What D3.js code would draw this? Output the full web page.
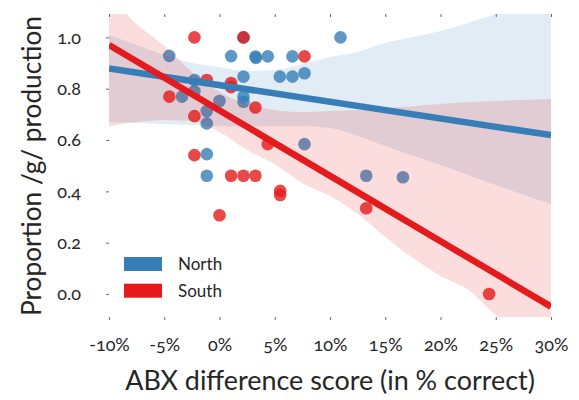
<!DOCTYPE html>
<html>
<head>
<meta charset="utf-8">
<script src="https://cdn.jsdelivr.net/npm/d3@7"></script>
<style>
  html, body { margin: 0; padding: 0; background: #fff; }
  svg { display: block; }
  text { font-family: Lato, "Noto Sans", sans-serif; fill: #262626; font-feature-settings: "onum" 1; font-variant-numeric: oldstyle-nums; }
</style>
</head>
<body>
<svg id="chart" width="579" height="400"></svg>
<script>
// ---------------- data ----------------
const groups = ["North", "South"];
const colors = ["#377eb8", "#e41a1c"];

const northX = [-4.55, 1.05, 3.25, 3.3, 4.37, 6.6, 2.17, 10.95, 5.46, 6.6, 7.69, 2.17, -2.27, -2.27, -3.39, 0, 2.17, 2.17, -1.15, -1.15, 7.69, -1.15, -1.15, 13.28, 16.6];
const northY = [0.928, 0.927, 0.925, 0.92, 0.926, 0.926, 1.0, 1.0, 0.847, 0.847, 0.86, 0.847, 0.834, 0.79, 0.769, 0.752, 0.769, 0.749, 0.713, 0.665, 0.584, 0.545, 0.461, 0.461, 0.455];

const southX = [-2.27, 2.17, 7.69, 1.05, 1.05, -1.15, -4.54, 3.25, -2.27, 4.37, -2.27, 1.05, 2.17, 3.25, 5.49, 5.49, 0, 13.28, 24.4];
const southY = [1.0, 1.0, 0.926, 0.822, 0.806, 0.834, 0.769, 0.727, 0.693, 0.584, 0.541, 0.461, 0.461, 0.461, 0.402, 0.386, 0.307, 0.334, 0.0];

// regression fits (value at x = -10% and x = 30%)
const fitX = [-10, 30];
const northFit = [0.879, 0.619];
const southFit = [0.970, -0.049];

// confidence bands
const bandX = [-10, -7.5, -5, -2.5, 0, 2.5, 5, 7.5, 10, 12.5, 15, 17.5, 20, 22.5, 25, 27.5, 30];
const northUpper = [1.009, 0.970, 0.931, 0.900, 0.884, 0.869, 0.873, 0.896, 0.923, 0.943, 0.978, 1.001, 1.025, 1.056, 1.091, 1.122, 1.153];
const northLower = [0.670, 0.666, 0.662, 0.658, 0.654, 0.654, 0.654, 0.654, 0.647, 0.616, 0.577, 0.539, 0.503, 0.464, 0.425, 0.387, 0.351];
const southUpper = [1.165, 1.052, 0.966, 0.865, 0.787, 0.740, 0.717, 0.709, 0.713, 0.717, 0.725, 0.732, 0.740, 0.748, 0.752, 0.756, 0.760];
const southLower = [0.654, 0.670, 0.678, 0.674, 0.631, 0.561, 0.506, 0.432, 0.382, 0.312, 0.222, 0.140, 0.070, 0.016, -0.082, -0.171, -0.269];

const xTicks = [-10, -5, 0, 5, 10, 15, 20, 25, 30];
const yTicks = [0.0, 0.2, 0.4, 0.6, 0.8, 1.0];
const xTitle = "ABX difference score (in % correct)";
const yTitle = "Proportion /g/ production";

// ---------------- layout ----------------
const svg = d3.select("#chart");
const x = d3.scaleLinear().domain([-10, 30]).range([109, 551]);
const y = d3.scaleLinear().domain([-0.0895, 1.091]).range([317, 14]);

svg.append("defs").append("clipPath").attr("id", "clip")
  .append("rect").attr("x", 109).attr("y", 14).attr("width", 442).attr("height", 303);

const plot = svg.append("g").attr("clip-path", "url(#clip)");

const series = [
  { xs: northX, ys: northY, fit: northFit, lo: northLower, hi: northUpper, color: colors[0] },
  { xs: southX, ys: southY, fit: southFit, lo: southLower, hi: southUpper, color: colors[1] }
];

const area = d3.area()
  .x(d => x(d[0])).y0(d => y(d[1])).y1(d => y(d[2]))
  .curve(d3.curveMonotoneX);

// z-order like matplotlib: scatter & bands (in order), then lines
series.forEach(s => {
  plot.append("g").selectAll("circle")
    .data(s.xs.map((v, i) => [v, s.ys[i]]))
    .join("circle")
    .attr("cx", d => x(d[0])).attr("cy", d => y(d[1]))
    .attr("r", 6.3)
    .attr("fill", s.color).attr("fill-opacity", 0.8);
  plot.append("path")
    .datum(bandX.map((v, i) => [v, s.lo[i], s.hi[i]]))
    .attr("d", area)
    .attr("fill", s.color).attr("fill-opacity", 0.15);
});
series.forEach(s => {
  plot.append("line")
    .attr("x1", x(fitX[0])).attr("y1", y(s.fit[0]))
    .attr("x2", x(fitX[1])).attr("y2", y(s.fit[1]))
    .attr("stroke", s.color).attr("stroke-width", 6.5);
});

// ---------------- axes ----------------
const fmtX = d => d + "%";
const axB = svg.append("g").attr("transform", "translate(0,317)")
  .call(d3.axisBottom(x).tickValues(xTicks).tickFormat(fmtX).tickSize(3).tickPadding(18));
const axT = svg.append("g").attr("transform", "translate(0,14)")
  .call(d3.axisTop(x).tickValues(xTicks).tickFormat("").tickSize(-3));
const axL = svg.append("g").attr("transform", "translate(109,0)")
  .call(d3.axisLeft(y).tickValues(yTicks).tickFormat(d3.format(".1f")).tickSize(3).tickPadding(25));
[axB, axT, axL].forEach(a => {
  a.select(".domain").remove();
  a.selectAll(".tick line").attr("stroke", "#666").attr("stroke-width", 1);
  a.selectAll("text").attr("font-size", 18).attr("fill", "#262626")
    .style("font-family", "Lato, 'Noto Sans', sans-serif");
});

function fitText(sel, target) {
  const w = sel.node().getComputedTextLength();
  const fs = parseFloat(sel.attr("font-size"));
  if (w > 0) sel.attr("font-size", fs * target / w);
}
const xt = svg.append("text").attr("x", 330).attr("y", 390).attr("text-anchor", "middle")
  .attr("font-size", 24).text(xTitle);
fitText(xt, 410);
const yt = svg.append("text").attr("transform", "translate(41,166) rotate(-90)").attr("text-anchor", "middle")
  .attr("font-size", 24).text(yTitle);
fitText(yt, 300);

// ---------------- legend ----------------
const leg = svg.append("g");
groups.forEach((g, i) => {
  leg.append("rect").attr("x", 124).attr("y", 257 + i * 26.7).attr("width", 38).attr("height", 14)
    .attr("fill", colors[i]);
  leg.append("text").attr("x", 178).attr("y", 270 + i * 26.7).attr("font-size", 17)
    .attr("fill", "#333").text(g);
});
</script>
</body>
</html>
